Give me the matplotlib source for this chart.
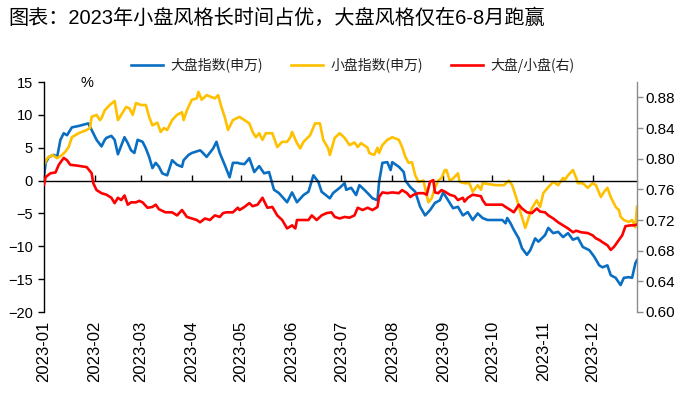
import matplotlib
matplotlib.use('Agg')
import matplotlib.pyplot as plt
import matplotlib.dates as mdates
from matplotlib.ticker import FormatStrFormatter
from matplotlib.lines import Line2D
import pandas as pd
import numpy as np

plt.rcParams['font.family'] = ['Liberation Sans', 'Noto Sans CJK SC', 'DejaVu Sans']

title = '图表：2023年小盘风格长时间占优，大盘风格仅在6-8月跑赢'
series_names = ['大盘指数(申万)', '小盘指数(申万)', '大盘/小盘(右)']
unit_label = '%'

# 大盘指数(申万) cumulative change, %
big_dates = ['01-01', '01-02', '01-04', '01-07', '01-09', '01-11', '01-13', '01-15', '01-18', '01-22', '01-28', '01-31',
             '02-02', '02-05', '02-07', '02-08', '02-11', '02-13', '02-15', '02-19', '02-21', '02-23', '02-25', '02-27',
             '03-02', '03-04', '03-06', '03-08', '03-10', '03-12', '03-14', '03-17', '03-20', '03-23', '03-26', '03-27', '03-30',
             '04-01', '04-06', '04-07', '04-10', '04-14', '04-16', '04-18', '04-21', '04-24', '04-26', '04-29', '04-30',
             '05-03', '05-06', '05-09', '05-12', '05-15', '05-18', '05-21', '05-24', '05-29',
             '06-01', '06-04', '06-08', '06-11', '06-14', '06-17', '06-19', '06-24', '06-26', '06-30',
             '07-03', '07-04', '07-07', '07-10', '07-12', '07-15', '07-17', '07-20', '07-23', '07-24', '07-26', '07-29', '07-31',
             '08-01', '08-05', '08-08', '08-09', '08-12', '08-15', '08-18', '08-21', '08-24', '08-27', '08-30',
             '09-01', '09-04', '09-07', '09-10', '09-13', '09-16', '09-19', '09-22', '09-25', '09-28',
             '10-07', '10-09', '10-10', '10-12', '10-14', '10-17', '10-19', '10-22', '10-24', '10-27', '10-29', '10-31',
             '11-02', '11-04', '11-07', '11-10', '11-13', '11-16', '11-19', '11-22', '11-25', '11-29',
             '12-02', '12-05', '12-07', '12-10', '12-12', '12-15', '12-18', '12-20', '12-23', '12-25', '12-27', '12-28']
big_vals = [0.5, 2.7, 3.6, 3.9, 3.6, 6.2, 7.2, 6.9, 8.1, 8.3, 8.7, 7.2,
            6.2, 5.2, 6.2, 6.5, 6.8, 6.2, 4.0, 6.6, 5.7, 4.6, 4.2, 6.2,
            5.9, 4.9, 3.6, 1.9, 2.7, 2.1, 1.1, 0.8, 3.1, 2.4, 2.1, 3.1, 3.9,
            4.2, 4.6, 4.4, 3.6, 4.9, 5.9, 4.2, 2.4, 0.5, 2.7, 2.7, 2.6,
            2.5, 3.4, 1.3, 2.2, 1.1, 1.3, -1.4, -1.9, -3.3,
            -1.8, -3.3, -2.2, -1.7, 0.8, -0.2, -1.7, -2.7, -1.9, -1.1,
            -0.4, -1.4, -1.1, -2.2, -0.7, -1.4, -1.9, -2.7, -3.0, -0.2, 2.7, 2.8, 1.6,
            2.8, 2.1, 1.3, 0.0, -1.0, -1.7, -4.0, -5.3, -4.5, -3.4, -3.0,
            -1.8, -3.0, -4.2, -4.0, -5.3, -4.8, -6.0, -5.0, -5.7, -6.0,
            -6.0, -6.5, -5.7, -6.5, -7.5, -8.8, -10.3, -11.3, -10.6, -8.8, -9.3, -8.8,
            -8.3, -7.2, -8.0, -7.8, -8.6, -8.0, -9.0, -8.7, -10.1, -10.6,
            -11.6, -12.9, -13.2, -12.9, -14.4, -14.8, -15.9, -14.8, -14.7, -14.8, -12.6, -12.1]

# 小盘指数(申万) cumulative change, %
small_dates = ['01-01', '01-03', '01-06', '01-09', '01-12', '01-14', '01-16', '01-18', '01-22', '01-27', '01-29', '01-30',
               '02-02', '02-04', '02-05', '02-07', '02-10', '02-13', '02-15', '02-17', '02-20', '02-22', '02-24', '02-26',
               '03-01', '03-04', '03-06', '03-08', '03-11', '03-13', '03-15', '03-17', '03-20', '03-23', '03-26', '03-27', '03-29',
               '04-01', '04-04', '04-05', '04-07', '04-10', '04-12', '04-15', '04-17', '04-19', '04-21', '04-23', '04-26', '04-30',
               '05-03', '05-06', '05-08', '05-10', '05-12', '05-14', '05-16', '05-20', '05-21', '05-23', '05-26', '05-29', '05-31',
               '06-01', '06-04', '06-06', '06-08', '06-12', '06-15', '06-18', '06-20', '06-23', '06-24', '06-27', '06-30',
               '07-03', '07-06', '07-09', '07-11', '07-13', '07-17', '07-18', '07-21', '07-23', '07-24', '07-26', '07-29',
               '08-01', '08-05', '08-07', '08-09', '08-11', '08-13', '08-15', '08-17', '08-20', '08-23', '08-25', '08-27', '08-29', '08-31',
               '09-02', '09-03', '09-05', '09-07', '09-10', '09-11', '09-14', '09-17', '09-19', '09-22', '09-24', '09-25',
               '10-03', '10-08', '10-11', '10-13', '10-16', '10-18', '10-21', '10-23', '10-25', '10-28', '10-30',
               '11-01', '11-04', '11-07', '11-10', '11-13', '11-14', '11-16', '11-19', '11-21', '11-22', '11-25', '11-28',
               '12-01', '12-03', '12-06', '12-08', '12-10', '12-12', '12-15', '12-17', '12-18', '12-20', '12-23', '12-25', '12-27', '12-28']
small_vals = [2.4, 3.4, 3.9, 3.4, 3.9, 4.4, 5.1, 6.6, 7.2, 7.7, 8.0, 9.7,
              10.0, 9.2, 9.5, 10.7, 11.5, 12.1, 9.2, 10.0, 11.2, 11.0, 10.0, 11.8,
              11.5, 11.5, 9.7, 8.4, 8.8, 7.4, 8.0, 7.7, 9.2, 10.0, 10.4, 9.2, 10.7,
              12.3, 12.5, 13.5, 12.3, 13.0, 12.8, 12.5, 13.0, 11.2, 9.7, 7.7, 9.2, 9.7,
              9.2, 8.7, 7.4, 6.6, 7.2, 6.2, 7.2, 7.2, 6.5, 5.1, 5.9, 5.9, 6.6,
              7.4, 5.7, 4.9, 5.9, 6.9, 8.7, 8.7, 6.2, 4.9, 3.9, 6.5, 7.2,
              6.5, 5.4, 5.8, 5.1, 5.7, 5.0, 4.2, 3.9, 5.0, 4.2, 5.4, 6.2,
              6.6, 6.2, 5.1, 3.6, 2.7, 2.8, 0.8, -0.2, 0.0, -3.3, -2.7, -1.1, 0.0, 0.4,
              1.6, 1.6, 0.0, 0.3, 1.1, -0.2, -0.4, -0.4, -1.7, -0.7, -1.4, -0.4,
              -0.7, -0.7, 0.0, -0.7, -3.0, -4.8, -7.2, -5.7, -4.2, -3.0, -4.0,
              -1.9, -1.0, -0.2, -0.7, 0.4, 0.1, 0.8, 1.6, 0.4, -0.4, -0.4, -1.1,
              -0.4, -0.7, -2.5, -1.7, -1.1, -2.5, -4.0, -4.5, -5.5, -6.0, -6.3, -6.0, -7.1, -4.0]

# 大盘/小盘 ratio (right axis)
ratio_dates = ['01-01', '01-02', '01-05', '01-08', '01-10', '01-13', '01-15', '01-17', '01-21', '01-27', '01-30', '01-31',
               '02-02', '02-05', '02-08', '02-11', '02-13', '02-15', '02-17', '02-19', '02-21', '02-23', '02-26', '02-28',
               '03-02', '03-05', '03-08', '03-10', '03-12', '03-16', '03-20', '03-23', '03-26', '03-29',
               '04-01', '04-04', '04-06', '04-09', '04-12', '04-15', '04-18', '04-20', '04-22', '04-26', '04-29', '04-30',
               '05-03', '05-06', '05-08', '05-11', '05-14', '05-17', '05-20', '05-23', '05-26', '05-29',
               '06-01', '06-03', '06-04', '06-08', '06-11', '06-13', '06-16', '06-19', '06-22', '06-25', '06-27', '06-30',
               '07-03', '07-06', '07-09', '07-11', '07-14', '07-17', '07-20', '07-23', '07-24', '07-26', '07-29',
               '08-01', '08-05', '08-07', '08-10', '08-12', '08-14', '08-17', '08-20', '08-22', '08-24', '08-26', '08-27', '08-29', '08-31',
               '09-02', '09-05', '09-08', '09-10', '09-13', '09-14', '09-16', '09-19', '09-24', '09-25', '09-27',
               '10-01', '10-07', '10-09', '10-12', '10-14', '10-17', '10-19', '10-22', '10-25', '10-28', '10-30',
               '11-02', '11-04', '11-07', '11-10', '11-13', '11-16', '11-19', '11-21', '11-24', '11-28',
               '12-01', '12-03', '12-05', '12-07', '12-10', '12-12', '12-14', '12-17', '12-19', '12-21', '12-24', '12-26', '12-28']
ratio_vals = [0.766, 0.776, 0.781, 0.782, 0.792, 0.801, 0.798, 0.792, 0.791, 0.789, 0.781, 0.768,
              0.759, 0.755, 0.753, 0.749, 0.742, 0.749, 0.746, 0.752, 0.740, 0.743, 0.743, 0.745,
              0.743, 0.736, 0.737, 0.740, 0.734, 0.730, 0.730, 0.726, 0.733, 0.724,
              0.722, 0.720, 0.717, 0.722, 0.720, 0.726, 0.724, 0.729, 0.730, 0.730, 0.736, 0.733,
              0.737, 0.742, 0.738, 0.740, 0.749, 0.736, 0.737, 0.726, 0.720, 0.709,
              0.713, 0.709, 0.720, 0.720, 0.720, 0.726, 0.720, 0.726, 0.729, 0.730, 0.724, 0.722,
              0.724, 0.723, 0.726, 0.736, 0.733, 0.736, 0.733, 0.737, 0.750, 0.756, 0.755,
              0.756, 0.755, 0.759, 0.755, 0.750, 0.753, 0.755, 0.755, 0.753, 0.770, 0.772, 0.756, 0.755, 0.759,
              0.757, 0.753, 0.751, 0.746, 0.749, 0.744, 0.749, 0.753, 0.751, 0.746, 0.740,
              0.740, 0.740, 0.737, 0.733, 0.730, 0.740, 0.735, 0.730, 0.729, 0.735, 0.731,
              0.730, 0.726, 0.722, 0.717, 0.713, 0.709, 0.704, 0.706, 0.704, 0.703,
              0.700, 0.696, 0.694, 0.691, 0.687, 0.681, 0.685, 0.694, 0.700, 0.712, 0.713, 0.713, 0.714]

year = '2023-'
to_dt = lambda ds: pd.to_datetime([year + d for d in ds])
big_d, small_d, ratio_d = to_dt(big_dates), to_dt(small_dates), to_dt(ratio_dates)

c_big, c_small, c_ratio = '#0A6FC2', '#FFC000', '#FF0000'
lw = 1.9

fig = plt.figure(figsize=(6.84, 3.96), dpi=100)
W, H = 684, 396
ax = fig.add_axes([44 / W, 1 - 312 / H, (637 - 44) / W, (312 - 82) / H])
ax.plot(big_d, big_vals, color=c_big, lw=lw, solid_joinstyle='round')
ax.plot(small_d, small_vals, color=c_small, lw=lw, solid_joinstyle='round')
ax2 = ax.twinx()
ax2.plot(ratio_d, ratio_vals, color=c_ratio, lw=lw, solid_joinstyle='round')

ax.set_ylim(-20, 15)
ax.set_yticks(np.arange(-20, 16, 5))
ax2.set_ylim(0.60, 0.90)
ax2.set_yticks(np.round(np.arange(0.60, 0.881, 0.04), 2))
ax2.yaxis.set_major_formatter(FormatStrFormatter('%.2f'))

ax.set_xlim(pd.Timestamp('2023-01-01'), ratio_d[-1])
ax.xaxis.set_major_locator(mdates.MonthLocator())
ax.xaxis.set_major_formatter(mdates.DateFormatter('%Y-%m'))

ax.spines['bottom'].set_position(('data', 0))
ax.spines['top'].set_visible(False)
ax.spines['right'].set_visible(False)
ax.spines['left'].set_color('black')
ax.spines['bottom'].set_color('black')
ax.spines['left'].set_linewidth(1.0)
ax.spines['bottom'].set_linewidth(1.0)
for s in ['top', 'bottom', 'left']:
    ax2.spines[s].set_visible(False)
ax2.spines['right'].set_color('#8c8c8c')
ax2.spines['right'].set_linewidth(1.0)

ax.tick_params(axis='x', direction='in', length=4, width=1, pad=101,
               labelrotation=90, labelsize=12, colors='black')
ax.tick_params(axis='y', direction='out', length=4, width=1, pad=4, labelsize=10.5)
ax2.tick_params(axis='y', direction='out', length=4, width=1, pad=2, labelsize=11,
                color='#8c8c8c', labelcolor='black')

ax.text(0.0725, 0.996, unit_label, transform=ax.transAxes, ha='center', va='center', fontsize=10.5)

fig.text(8 / W, 1 - 18 / H, title, ha='left', va='center', fontsize=14.5,
         family=['Liberation Sans', 'Noto Sans CJK SC'])

handles = [Line2D([], [], color=c, lw=lw) for c in (c_big, c_small, c_ratio)]
fig.legend(handles, series_names, loc='center', bbox_to_anchor=(353 / W, 1 - 65 / H), ncol=3,
           frameon=False, prop={'family': ['Noto Sans CJK SC'], 'size': 10},
           handlelength=2.3, handletextpad=0.55, columnspacing=2.0, labelcolor='#222222')

fig.savefig('out.png', dpi=100)
